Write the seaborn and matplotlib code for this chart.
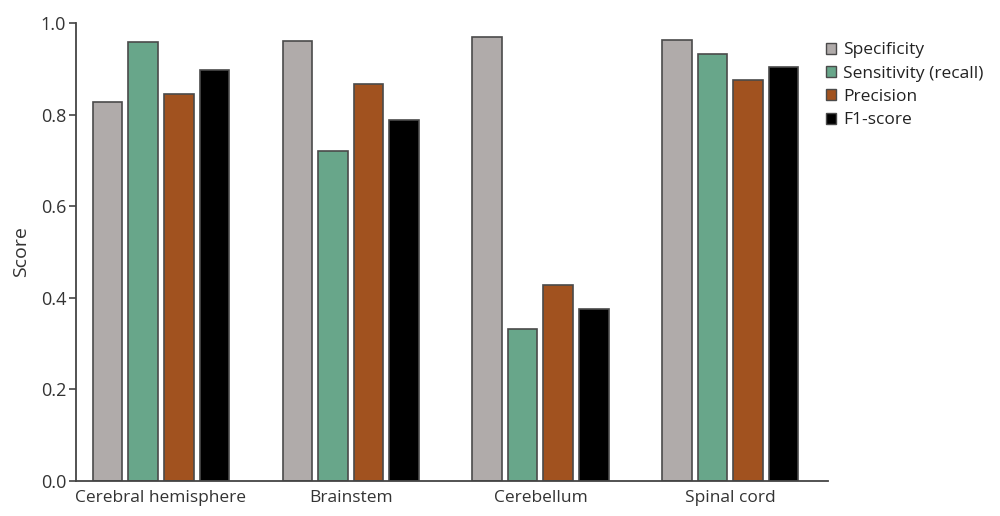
import matplotlib
matplotlib.use("Agg")
import matplotlib.pyplot as plt
import seaborn as sns
import pandas as pd
from matplotlib.patches import Patch

regions = ["Cerebral hemisphere", "Brainstem", "Cerebellum", "Spinal cord"]
metrics = ["Specificity", "Sensitivity (recall)", "Precision", "F1-score"]
specificity = [0.828, 0.961, 0.969, 0.963]
sensitivity = [0.958, 0.720, 0.332, 0.932]
precision = [0.845, 0.867, 0.428, 0.876]
f1_score = [0.897, 0.788, 0.376, 0.904]
yticks = [0.0, 0.2, 0.4, 0.6, 0.8, 1.0]

colors = ["#b0abaa", "#68a68a", "#a1521f", "#000000"]

series = [specificity, sensitivity, precision, f1_score]
rows = []
for m, vals in zip(metrics, series):
    for r, v in zip(regions, vals):
        rows.append({"Region": r, "Metric": m, "Score": v})
df = pd.DataFrame(rows)

sns.set_style("white")
plt.rcParams["font.family"] = ["Open Sans", "DejaVu Sans"]

fig = plt.figure(figsize=(10, 5.16), dpi=100)
ax = fig.add_axes([0.076, 0.0678, 0.752, 0.8876])

sns.barplot(data=df, x="Region", y="Score", hue="Metric", order=regions,
            hue_order=metrics, palette=colors, saturation=1, width=0.75, gap=0.17,
            edgecolor="#4a4a4a", linewidth=1.2, ax=ax, legend=False)

ax.set_xlim(-0.448, 3.516)
ax.set_ylim(0, 1.0)
ax.set_yticks(yticks)
ax.set_yticklabels([f"{t:.1f}" for t in yticks])
ax.set_xlabel("")
ax.set_ylabel("Score", fontsize=14, color="#333333", labelpad=8)
for s in ["top", "right"]:
    ax.spines[s].set_visible(False)
for s in ["left", "bottom"]:
    ax.spines[s].set_color("#444444")
    ax.spines[s].set_linewidth(1.3)
ax.tick_params(axis="y", left=True, length=5, width=1.2, color="#444444",
               labelsize=13, labelcolor="#333333", pad=2)
ax.tick_params(axis="x", bottom=False, labelsize=12.5, labelcolor="#333333", pad=3)

handles = [Patch(facecolor=c, edgecolor="#4a4a4a", linewidth=1.0, label=m)
           for c, m in zip(colors, metrics)]
fig.legend(handles=handles, loc="upper left", bbox_to_anchor=(0.81, 0.948),
           frameon=False, fontsize=12.5, handlelength=0.6, handleheight=0.6,
           handletextpad=0.4, labelspacing=0.42, labelcolor="#222222")

fig.savefig("out.png", dpi=100)
